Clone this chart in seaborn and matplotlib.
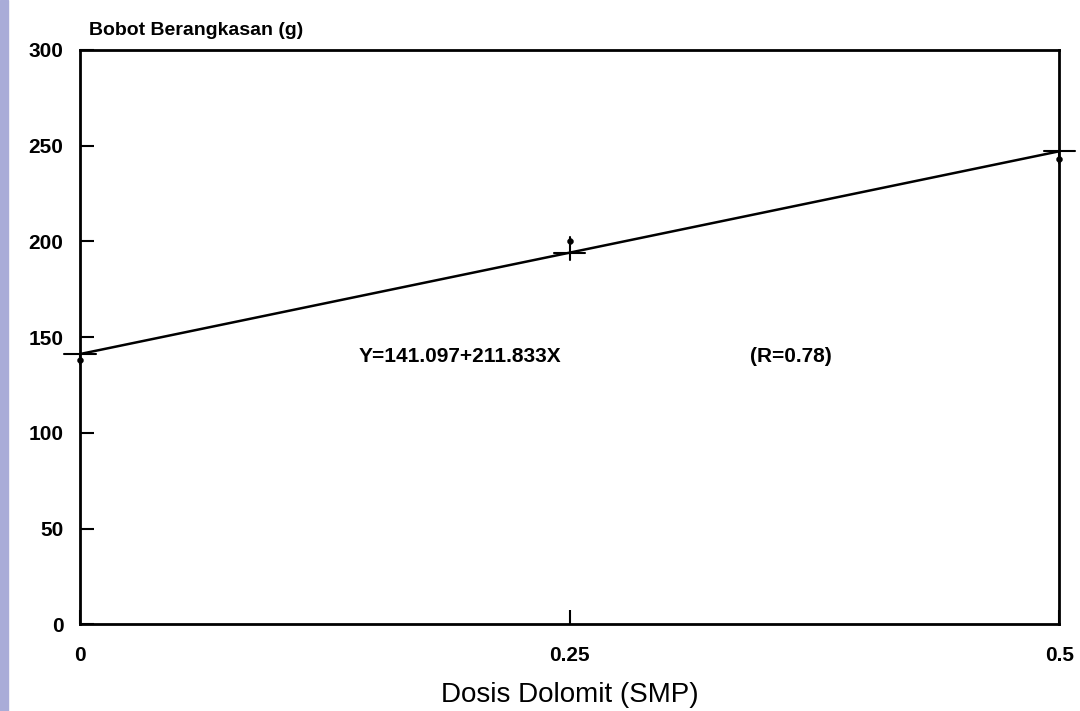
import matplotlib
matplotlib.use("Agg")
import matplotlib.pyplot as plt
import seaborn as sns
import pandas as pd
import numpy as np

# Data
dose = [0.0, 0.25, 0.5]
mean_weight = [138, 200, 243]
err_low = [136, 190, 241]
err_high = [141, 202, 247]
intercept = 141.097
slope = 211.833
r_value = 0.78
x_ticks = [0, 0.25, 0.5]
x_tick_labels = ["0", "0.25", "0.5"]
y_ticks = [0, 50, 100, 150, 200, 250, 300]

sns.set_theme(style="white")
plt.rcParams['font.family'] = ['Liberation Sans', 'DejaVu Sans']
plt.rcParams['text.color'] = 'black'
plt.rcParams['axes.labelcolor'] = 'black'

fig = plt.figure(figsize=(10.8, 7.11), dpi=100)
# lavender stripe on the left edge
fig.patches.append(plt.Rectangle((0, 0), 0.0075, 1, transform=fig.transFigure,
                                 color="#a9acd8", zorder=0))
ax = fig.add_axes([0.074, 0.122, 0.907, 0.808])

df_pts = pd.DataFrame({"dose": dose, "weight": mean_weight})
line_x = np.array([dose[0], dose[-1]])
df_line = pd.DataFrame({"dose": line_x, "fit": intercept + slope * line_x})

sns.lineplot(data=df_line, x="dose", y="fit", ax=ax, color="black", lw=1.8)
sns.scatterplot(data=df_pts, x="dose", y="weight", ax=ax, color="black", s=18,
                edgecolor="black", zorder=5, clip_on=False)
for d, lo, hi in zip(dose, err_low, err_high):
    ax.plot([d, d], [lo, hi], color="black", lw=1.5, clip_on=False)
    fit_y = intercept + slope * d
    ax.plot([d - 0.008, d + 0.008], [fit_y, fit_y], color="black", lw=1.5,
            clip_on=False)

ax.set_xlim(0, 0.5)
ax.set_ylim(0, 300)
ax.set_xticks(x_ticks)
ax.set_xticklabels(x_tick_labels)
ax.set_yticks(y_ticks)
ax.tick_params(axis="both", direction="in", length=10, width=1.5, labelsize=15,
               colors="black")
ax.tick_params(axis="y", left=True, pad=12)
ax.tick_params(axis="x", bottom=True, pad=16)
for lbl in ax.get_xticklabels() + ax.get_yticklabels():
    lbl.set_fontweight("bold")
for s in ax.spines.values():
    s.set_visible(True)
    s.set_color("black")
    s.set_linewidth(2)

ax.set_xlabel("Dosis Dolomit (SMP)", fontsize=20, labelpad=12, color="black")
ax.set_ylabel("")
fig.text(0.082, 0.945, "Bobot Berangkasan (g)", fontsize=14, fontweight="bold",
         ha="left", va="bottom", color="black")
ax.text(0.142, 140, "Y=141.097+211.833X", fontsize=15, fontweight="bold",
        ha="left", va="center", color="black")
ax.text(0.342, 140, f"(R={r_value})", fontsize=15, fontweight="bold",
        ha="left", va="center", color="black")

fig.savefig("out.png", dpi=100, facecolor="white")
